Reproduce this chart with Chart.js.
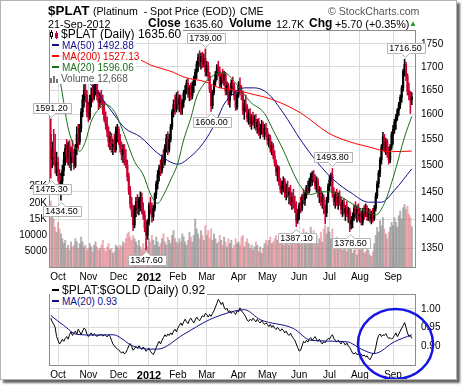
<!DOCTYPE html>
<html>
<head>
<meta charset="utf-8">
<script src="https://cdn.jsdelivr.net/npm/chart.js@4.4.1/dist/chart.umd.min.js"></script>
<style>
  body { margin: 0; width: 464px; height: 387px; overflow: hidden; position: relative; background: #fff;
         font-family: "Liberation Sans", Arial, sans-serif; }
  #frame { position: absolute; left: 0; top: 0; width: 455px; height: 378px; border: 1px solid #b4b4b4;
           box-shadow: 3px 3px 2px #666; background: #fff; }
  canvas { position: absolute; left: 0; }
  #main { top: 0; }
  #lower { top: 283px; }
  .t { position: absolute; white-space: nowrap; line-height: 1; }
  .leg { position: absolute; left: 50px; white-space: nowrap; line-height: 11px; height: 11px; background: #fff; padding-right: 2px; }
  .ln { display: inline-block; width: 7px; height: 2px; margin: 0 3px 0 2px; vertical-align: 3px; }
  .ic { display: inline-block; vertical-align: -1px; margin-right: 2px; }
</style>
</head>
<body>
<div id="frame"></div>
<canvas id="main" width="464" height="283"></canvas>
<canvas id="lower" width="464" height="96"></canvas>

<!-- 標題 -->
<div class="t" style="left:48px;top:3.7px;font-size:13.4px;font-weight:bold">$PLAT</div>
<div class="t" style="left:93px;top:6.1px;font-size:10.6px">(Platinum&nbsp; - Spot Price (EOD))</div>
<div class="t" style="left:240px;top:6.1px;font-size:10.6px">CME</div>
<div class="t" style="left:328px;top:6.1px;font-size:10.6px;color:#555">&copy; StockCharts.com</div>
<div class="t" style="left:48px;top:18.5px;font-size:10.8px">21-Sep-2012</div>
<div class="t" style="left:148px;top:17.3px;font-size:12px;font-weight:bold">Close</div>
<div class="t" style="left:184px;top:18.5px;font-size:10.8px">1635.60</div>
<div class="t" style="left:229px;top:17.3px;font-size:12px;font-weight:bold">Volume</div>
<div class="t" style="left:276px;top:18.5px;font-size:10.8px">12.7K</div>
<div class="t" style="left:309px;top:17.3px;font-size:12px;font-weight:bold">Chg</div>
<div class="t" style="left:335px;top:18.5px;font-size:10.8px">+5.70 (+0.35%)</div>
<div class="t" style="left:409px;top:20px;font-size:8px;color:#229922">&#9650;</div>

<!-- 圖例 -->
<div class="leg" style="top:29px;font-size:12px"><span class="ic"><svg width="9" height="9"><line x1="1.5" y1="0" x2="1.5" y2="9" stroke="#000"/><rect x="0.5" y="2.5" width="2" height="4" fill="#fff" stroke="#000"/><line x1="6.5" y1="1" x2="6.5" y2="9" stroke="#cc0033"/><rect x="5.5" y="3.5" width="2" height="4" fill="#cc0033" stroke="#cc0033"/></svg></span>$PLAT (Daily) 1635.60</div>
<div class="leg" style="top:40px;font-size:10px;color:#10108a"><i class="ln" style="background:#10108a"></i>MA(50) 1492.88</div>
<div class="leg" style="top:51px;font-size:10px;color:#e00000"><i class="ln" style="background:#ff0000"></i>MA(200) 1527.13</div>
<div class="leg" style="top:62px;font-size:10px;color:#1a6e1a"><i class="ln" style="background:#1a6e1a"></i>MA(20) 1596.06</div>
<div class="leg" style="top:73px;font-size:10px;color:#555"><span class="ic"><svg width="9" height="8"><rect x="0" y="3" width="2" height="5" fill="#777"/><rect x="3" y="1" width="2" height="7" fill="#777"/><rect x="6" y="4" width="2" height="4" fill="#777"/></svg></span>Volume 12,668</div>
<div class="leg" style="top:285px;font-size:12px"><i class="ln" style="background:#000"></i>$PLAT:$GOLD (Daily) 0.92</div>
<div class="leg" style="top:296px;font-size:10px;color:#10108a"><i class="ln" style="background:#10108a"></i>MA(20) 0.93</div>

<script>
// 座標軸刻度
const monthTicks = [5, 26, 47, 68, 88, 108, 130, 150, 172, 193, 214, 237];
const monthLabels = ["Oct", "Nov", "Dec", "2012", "Feb", "Mar", "Apr", "May", "Jun", "Jul", "Aug", "Sep"];
const priceTicks = [1350, 1400, 1450, 1500, 1550, 1600, 1650, 1700, 1750];
const volumeTicks = [5, 10, 15, 20, 25]; // 千
const ratioTicks = [0.90, 0.95, 1.00];

// 每日 K 線 (2011-09-26 ~ 2012-09-21)
const opens = [
  1560,1512,1530,1515,1498,1505,1480,1455,1470,1490,
  1510,1532,1515,1538,1505,1525,1515,1498,1535,1560,
  1545,1572,1605,1630,1650,1640,1605,1595,1630,1640,
  1635,1660,1665,1638,1625,1632,1628,1610,1590,1580,
  1565,1545,1555,1535,1540,1530,1565,1570,1550,1535,
  1520,1530,1510,1500,1478,1452,1428,1415,1390,1418,
  1432,1420,1435,1440,1418,1408,1385,1372,1395,1425,
  1418,1405,1420,1445,1465,1482,1495,1490,1512,1505,
  1535,1552,1530,1550,1575,1605,1620,1612,1635,1620,
  1632,1612,1625,1645,1650,1665,1642,1655,1638,1660,
  1672,1688,1705,1720,1710,1722,1705,1718,1690,1702,
  1680,1652,1618,1645,1668,1685,1698,1690,1662,1678,
  1672,1682,1648,1660,1628,1645,1665,1658,1638,1615,
  1640,1660,1650,1640,1608,1622,1615,1592,1602,1582,
  1595,1585,1590,1575,1585,1565,1572,1580,1562,1572,
  1565,1548,1552,1532,1538,1518,1505,1488,1495,1468,
  1455,1462,1470,1448,1458,1445,1450,1432,1440,1428,
  1420,1398,1410,1425,1420,1440,1435,1445,1458,1452,
  1470,1478,1482,1475,1462,1470,1448,1452,1432,1440,
  1418,1412,1435,1460,1472,1480,1448,1432,1445,1430,
  1440,1428,1418,1430,1412,1420,1410,1415,1392,1398,
  1405,1420,1410,1418,1405,1410,1395,1415,1410,1420,
  1405,1415,1400,1410,1402,1420,1442,1465,1485,1510,
  1535,1555,1530,1545,1522,1510,1535,1560,1570,1585,
  1595,1608,1620,1635,1655,1690,1705,1680,1648,1640,
  1630
];
const highs = [
  1591.2,1545,1570,1560,1525,1515,1492,1485,1500,1525,
  1540,1550,1545,1548,1535,1548,1530,1540,1575,1580,
  1580,1612,1640,1662,1668,1650,1625,1640,1655,1662,
  1670,1675,1672,1650,1645,1650,1640,1625,1605,1595,
  1575,1565,1562,1550,1560,1575,1580,1575,1560,1545,
  1540,1540,1530,1510,1485,1460,1440,1425,1425,1440,
  1445,1440,1450,1448,1430,1415,1398,1400,1430,1440,
  1430,1425,1448,1470,1490,1500,1510,1520,1530,1540,
  1560,1565,1560,1580,1610,1630,1640,1645,1648,1640,
  1640,1630,1650,1660,1672,1675,1660,1665,1668,1680,
  1695,1712,1728,1735,1730,1732,1728,1739,1712,1710,
  1688,1660,1650,1672,1690,1705,1712,1700,1685,1695,
  1690,1688,1668,1665,1650,1672,1678,1665,1648,1645,
  1668,1676,1660,1648,1630,1640,1620,1610,1612,1600,
  1605,1598,1600,1590,1592,1580,1588,1585,1580,1582,
  1572,1560,1558,1545,1542,1528,1510,1500,1498,1475,
  1470,1478,1475,1465,1470,1458,1462,1448,1455,1442,
  1432,1418,1430,1440,1445,1455,1450,1462,1470,1475,
  1485,1488,1490,1482,1478,1475,1460,1458,1448,1445,
  1425,1440,1465,1480,1485,1493.8,1458,1450,1455,1448,
  1452,1440,1435,1438,1425,1432,1422,1420,1405,1412,
  1425,1432,1425,1428,1420,1415,1420,1425,1428,1425,
  1420,1418,1415,1420,1425,1448,1470,1490,1515,1540,
  1564,1560,1552,1550,1535,1540,1565,1578,1590,1600,
  1612,1625,1640,1660,1695,1716.5,1710,1685,1665,1648,
  1645
];
const lows = [
  1475.3,1495,1500,1485,1480,1470,1445,1434.5,1460,1480,
  1500,1505,1500,1495,1490,1505,1492,1495,1520,1530,
  1540,1565,1595,1615,1625,1595,1585,1590,1615,1625,
  1630,1640,1630,1610,1615,1620,1600,1585,1570,1555,
  1535,1530,1525,1520,1525,1525,1545,1540,1525,1510,
  1505,1500,1495,1470,1445,1420,1405,1380,1385,1405,
  1410,1408,1415,1410,1400,1378,1347.6,1365,1390,1410,
  1395,1398,1415,1438,1455,1470,1480,1485,1495,1500,
  1525,1520,1525,1545,1570,1595,1600,1605,1610,1605,
  1600,1600,1615,1630,1642,1635,1628,1630,1632,1645,
  1660,1675,1690,1700,1695,1698,1700,1680,1680,1670,
  1645,1606,1612,1640,1660,1672,1680,1655,1655,1665,
  1660,1640,1640,1620,1615,1640,1650,1630,1608,1610,
  1635,1645,1630,1600,1590,1605,1585,1580,1575,1570,
  1578,1572,1568,1562,1558,1552,1560,1555,1550,1555,
  1540,1535,1525,1520,1512,1498,1480,1470,1462,1448,
  1445,1450,1440,1435,1440,1428,1425,1418,1420,1412,
  1387.1,1393,1400,1412,1415,1428,1425,1438,1445,1448,
  1460,1462,1468,1455,1450,1440,1430,1425,1420,1410,
  1392,1405,1430,1452,1462,1440,1425,1420,1425,1418,
  1425,1410,1405,1408,1398,1405,1395,1378.5,1383,1385,
  1398,1402,1395,1398,1395,1390,1390,1400,1405,1398,
  1398,1395,1392,1395,1398,1415,1438,1458,1478,1502,
  1528,1525,1520,1515,1502,1505,1530,1540,1562,1570,
  1588,1598,1612,1625,1648,1680,1670,1640,1630,1602,
  1620
];
const closes = [
  1510,1530,1515,1498,1505,1480,1455,1470,1490,1510,
  1532,1515,1538,1505,1525,1515,1498,1535,1560,1545,
  1572,1605,1630,1650,1640,1605,1595,1630,1640,1635,
  1660,1665,1638,1625,1632,1628,1610,1590,1580,1565,
  1545,1555,1535,1540,1530,1565,1570,1550,1535,1520,
  1530,1510,1500,1478,1452,1428,1415,1390,1418,1432,
  1420,1435,1440,1418,1408,1385,1372,1395,1425,1418,
  1405,1420,1445,1465,1482,1495,1490,1512,1505,1535,
  1552,1530,1550,1575,1605,1620,1612,1635,1620,1632,
  1612,1625,1645,1650,1665,1642,1655,1638,1660,1672,
  1688,1705,1720,1710,1722,1705,1718,1690,1702,1680,
  1652,1618,1645,1668,1685,1698,1690,1662,1678,1672,
  1682,1648,1660,1628,1645,1665,1658,1638,1615,1640,
  1660,1650,1640,1608,1622,1615,1592,1602,1582,1595,
  1585,1590,1575,1585,1565,1572,1580,1562,1572,1565,
  1548,1552,1532,1538,1518,1505,1488,1495,1468,1455,
  1462,1470,1448,1458,1445,1450,1432,1440,1428,1420,
  1398,1410,1425,1420,1440,1435,1445,1458,1452,1470,
  1478,1482,1475,1462,1470,1448,1452,1432,1440,1418,
  1412,1435,1460,1472,1480,1448,1432,1445,1430,1440,
  1428,1418,1430,1412,1420,1410,1415,1392,1398,1405,
  1420,1410,1418,1405,1410,1395,1415,1410,1420,1405,
  1415,1400,1410,1402,1420,1442,1465,1485,1510,1535,
  1555,1530,1545,1522,1510,1535,1560,1570,1585,1595,
  1608,1620,1635,1655,1690,1705,1680,1648,1640,1629.9,
  1635.6
];
// 成交量（千）
const volumes = [
  20.5,17.5,15.0,12.5,11.0,14.0,12.0,10.5,9.0,7.5,
  8.5,6.0,7.0,5.5,8.0,6.5,7.0,9.0,8.0,6.0,
  7.5,9.5,8.0,6.5,7.0,5.5,6.0,7.5,6.5,5.0,
  7.0,8.0,6.5,5.5,6.0,7.0,8.5,6.0,5.0,6.5,
  7.5,5.5,6.0,4.5,5.0,7.0,6.5,6.0,7.0,6.5,
  8.0,7.5,9.0,10.5,11.0,9.5,8.5,10.0,9.0,8.0,
  7.0,8.5,6.5,5.5,7.5,6.0,8.0,6.5,9.0,8.0,
  10.0,8.5,7.0,9.5,8.0,6.5,7.5,9.0,10.5,8.0,
  7.0,9.5,8.5,7.5,10.0,11.5,9.0,8.0,7.5,9.0,
  8.0,10.5,9.5,8.0,7.0,8.5,11.0,9.5,8.0,10.0,
  15.0,12.0,10.5,9.0,11.5,10.0,8.5,13.0,10.0,11.5,
  9.0,12.0,8.5,10.5,9.0,7.5,8.0,10.0,8.5,7.0,
  9.5,8.0,6.5,9.0,7.5,8.5,6.0,7.0,9.0,7.5,
  8.0,7.0,9.5,10.0,6.5,8.0,9.0,7.5,6.0,7.0,
  5.5,6.5,8.0,7.0,5.0,6.5,4.5,6.0,7.5,8.5,
  7.0,8.5,9.5,7.5,8.0,9.0,10.0,8.5,7.5,9.5,
  8.0,7.0,10.5,9.0,8.5,7.0,9.5,8.0,11.0,9.0,
  10.0,8.0,9.0,10.5,8.5,12.0,9.5,11.0,8.0,10.0,
  12.5,9.0,11.5,8.5,10.0,7.5,9.0,11.0,8.0,12.0,
  13.0,10.5,12.5,11.0,9.0,12.0,8.5,7.0,9.5,6.5,
  8.0,7.5,5.5,6.5,8.0,5.0,7.0,9.5,6.0,4.5,
  5.5,7.0,4.0,6.0,5.5,7.0,6.0,4.5,5.0,6.5,
  5.5,4.0,3.5,5.0,7.5,10.0,12.5,11.0,14.5,13.0,
  15.5,12.0,10.5,9.0,11.0,12.5,14.0,13.0,15.5,14.0,
  12.5,16.0,17.5,15.0,18.5,19.5,18.0,19.0,16.5,15.5,
  12.668
];
// $PLAT:$GOLD 比值
const ratio = [
  0.975,0.965,0.958,0.950,0.925,0.915,0.905,0.910,0.918,0.912,
  0.920,0.925,0.918,0.930,0.938,0.928,0.935,0.940,0.932,0.945,
  0.938,0.930,0.940,0.948,0.945,0.932,0.925,0.930,0.935,0.928,
  0.933,0.930,0.925,0.930,0.928,0.932,0.926,0.930,0.928,0.924,
  0.930,0.926,0.915,0.905,0.900,0.895,0.892,0.888,0.885,0.880,
  0.884,0.878,0.882,0.890,0.900,0.906,0.898,0.888,0.892,0.898,
  0.893,0.900,0.895,0.890,0.897,0.892,0.885,0.890,0.893,0.885,
  0.880,0.876,0.885,0.895,0.905,0.912,0.905,0.915,0.922,0.930,
  0.925,0.932,0.928,0.935,0.930,0.940,0.945,0.938,0.948,0.955,
  0.962,0.955,0.965,0.972,0.965,0.960,0.970,0.975,0.968,0.962,
  0.970,0.978,0.972,0.968,0.975,0.982,0.978,0.988,0.985,0.978,
  0.985,0.980,0.988,0.995,1.005,1.015,1.026,1.020,1.012,1.018,
  1.005,0.998,1.002,0.992,0.995,0.988,0.994,0.990,0.985,0.995,
  0.992,1.003,0.995,0.990,0.985,0.978,0.970,0.966,0.972,0.968,
  0.975,0.970,0.965,0.972,0.966,0.962,0.968,0.963,0.958,0.962,
  0.958,0.952,0.958,0.950,0.955,0.948,0.944,0.950,0.945,0.940,
  0.946,0.942,0.935,0.940,0.932,0.928,0.934,0.926,0.920,0.915,
  0.905,0.895,0.886,0.888,0.900,0.912,0.908,0.915,0.910,0.918,
  0.922,0.915,0.920,0.925,0.918,0.912,0.918,0.910,0.905,0.912,
  0.908,0.915,0.920,0.918,0.925,0.930,0.920,0.915,0.910,0.915,
  0.910,0.905,0.912,0.908,0.902,0.908,0.900,0.895,0.888,0.880,
  0.878,0.882,0.876,0.878,0.874,0.878,0.872,0.875,0.870,0.873,
  0.866,0.862,0.870,0.878,0.880,0.895,0.915,0.928,0.932,0.925,
  0.930,0.928,0.933,0.925,0.920,0.922,0.918,0.922,0.928,0.935,
  0.925,0.932,0.940,0.948,0.955,0.963,0.950,0.935,0.925,0.928,
  0.920
];

// 移動平均線
const ma20Days = [0,4,7,12,17,20,24,28,34,38,44,51,58,64,69,74,78,83,88,92,97,101,106,111,117,121,128,138,148,154,161,168,173,180,187,194,201,210,219,225,231,238,245,250];
const ma20 = [1765,1712,1661,1573,1533,1527,1546,1586,1613,1620,1606,1559,1507,1482,1446,1429,1444,1472,1504,1549,1593,1636,1663,1678,1687,1686,1665,1626,1602,1568,1529,1485,1460,1445,1450,1450,1441,1426,1414,1408,1429,1485,1555,1596.06];
const ma50Days = [0,10,20,28,33,44,51,62,74,88,97,104,110,115,120,127,134,141,150,161,173,185,196,208,220,229,238,250];
const ma50 = [1790,1740,1695,1661,1643,1599,1573,1555,1523,1502,1517,1537,1562,1589,1621,1644,1655,1655,1644,1603,1549,1504,1472,1448,1431,1431,1453,1492.88];
const ma200Days = [0,30,62,69,85,92,108,115,128,138,154,173,192,203,219,236,250];
const ma200 = [1770,1740,1715,1704,1688,1678,1667,1657,1650,1643,1630,1603,1563,1549,1536,1526,1527.13];
const ratioMaDays = [0,9,18,30,43,57,69,74,92,110,127,134,145,168,180,205,215,224,238,250];
const ratioMa = [0.982,0.955,0.931,0.929,0.930,0.899,0.891,0.891,0.931,0.971,0.994,0.998,0.971,0.947,0.915,0.911,0.891,0.879,0.911,0.930];

// 高低點標註
const noteDays = [0, 0, 7, 66, 107, 111, 170, 195, 207, 245];
const noteValues = [1591.2, 1475.3, 1434.5, 1347.6, 1739.0, 1606.0, 1387.1, 1493.8, 1378.5, 1716.5];
const noteAbove = [true, false, false, false, true, false, false, true, false, true];

// 手繪圈
const circleDay = 238.7;
const circleValue = 0.905;

const FONT = '"Liberation Sans", Arial, sans-serif';
const RED = "#cc0033";
const down = closes.map((c, i) => c < (i ? closes[i - 1] : opens[0]));
const barColors = down.map((d) => (d ? RED : "#000"));
const volColors = down.map((d) => (d ? "rgba(222,110,122,0.55)" : "rgba(125,125,125,0.6)"));

const pts = (days, vals) => days.map((d, i) => ({ x: d, y: vals[i] }));

const xAxis = (h) => ({
  type: "linear",
  min: -1.25,
  max: 252.9,
  offset: false,
  afterBuildTicks: (s) => { s.ticks = monthTicks.map((v) => ({ value: v })); },
  afterFit: (s) => { s.height = h; },
  grid: { color: "#dadada", drawTicks: false, offset: false },
  border: { display: false },
  ticks: {
    autoSkip: false, maxRotation: 0, padding: 3, color: "#000",
    font: (c) => {
      const y = c.tick && c.tick.value === 68;
      return { family: FONT, size: y ? 11 : 10, weight: y ? "bold" : "normal" };
    },
    callback: (v) => monthLabels[monthTicks.indexOf(v)],
  },
});

// 外框
const panelBorder = {
  id: "panelBorder",
  afterDraw(chart) {
    const { ctx, chartArea: a } = chart;
    ctx.save();
    ctx.strokeStyle = "#8c8c8c";
    ctx.lineWidth = 1;
    ctx.strokeRect(Math.round(a.left) + 0.5, Math.round(a.top) + 0.5, Math.round(a.right - a.left) - 1, Math.round(a.bottom - a.top) - 1);
    ctx.restore();
  },
};

// 價格標註框
const notes = {
  id: "notes",
  afterDraw(chart) {
    const { ctx } = chart;
    const xs = chart.scales.x, ys = chart.scales.y;
    ctx.save();
    ctx.font = "9px " + FONT;
    ctx.textAlign = "center";
    ctx.textBaseline = "middle";
    noteDays.forEach((d, i) => {
      const txt = noteValues[i].toFixed(2);
      const px = Math.round(xs.getPixelForValue(d)) + 0.5;
      const py = ys.getPixelForValue(noteValues[i]);
      const w = Math.ceil(ctx.measureText(txt).width) + 5, h = 10;
      const l = Math.round(px - w / 2) + 0.5, r = l + w;
      const t = Math.round(noteAbove[i] ? py - 6 - h : py + 6) + 0.5, b = t + h;
      ctx.beginPath();
      if (noteAbove[i]) {
        ctx.moveTo(l, t); ctx.lineTo(r, t); ctx.lineTo(r, b); ctx.lineTo(px + 4, b);
        ctx.lineTo(px, b + 4); ctx.lineTo(px - 4, b); ctx.lineTo(l, b);
      } else {
        ctx.moveTo(l, t); ctx.lineTo(px - 4, t); ctx.lineTo(px, t - 4); ctx.lineTo(px + 4, t);
        ctx.lineTo(r, t); ctx.lineTo(r, b); ctx.lineTo(l, b);
      }
      ctx.closePath();
      ctx.fillStyle = "#fff";
      ctx.fill();
      ctx.strokeStyle = "#b4b4b4";
      ctx.stroke();
      ctx.fillStyle = "#000";
      ctx.fillText(txt, px, t + h / 2 + 0.5);
    });
    ctx.restore();
  },
};

// 藍色圈
const circle = {
  id: "circle",
  afterDraw(chart) {
    const { ctx } = chart;
    const cx = chart.scales.x.getPixelForValue(circleDay);
    const cy = chart.scales.y.getPixelForValue(circleValue);
    ctx.save();
    ctx.strokeStyle = "#1414e6";
    ctx.lineWidth = 2.5;
    ctx.beginPath();
    ctx.ellipse(cx, cy, 37.5, 35, 0, 0, Math.PI * 2);
    ctx.stroke();
    ctx.restore();
  },
};

const common = {
  responsive: false,
  animation: false,
  events: [],
  plugins: { legend: { display: false }, tooltip: { enabled: false } },
};

// 主圖：價格 + 成交量
new Chart(document.getElementById("main"), {
  type: "bar",
  data: {
    datasets: [
      { type: "line", data: pts(ma20Days, ma20), borderColor: "#1a6e1a", borderWidth: 1, pointRadius: 0, cubicInterpolationMode: "monotone", yAxisID: "y", order: 1 },
      { type: "line", data: pts(ma50Days, ma50), borderColor: "#10108a", borderWidth: 1, pointRadius: 0, cubicInterpolationMode: "monotone", yAxisID: "y", order: 1 },
      { type: "line", data: pts(ma200Days, ma200), borderColor: "#ff0000", borderWidth: 1, pointRadius: 0, cubicInterpolationMode: "monotone", yAxisID: "y", order: 1 },
      { data: opens.map((o, i) => ({ x: i, y: [Math.min(o, closes[i]), Math.max(o, closes[i])] })), backgroundColor: barColors, barThickness: 1.5, grouped: false, yAxisID: "y", order: 2 },
      { data: lows.map((lo, i) => ({ x: i, y: [lo, highs[i]] })), backgroundColor: barColors, barThickness: 0.9, grouped: false, yAxisID: "y", order: 3 },
      { data: volumes.map((v, i) => ({ x: i, y: v })), backgroundColor: volColors, barThickness: 1.3, grouped: false, yAxisID: "vol", order: 4 },
    ],
  },
  options: {
    ...common,
    layout: { padding: { top: 30, left: 0, right: 0, bottom: 0 } },
    scales: {
      x: xAxis(15),
      y: {
        type: "logarithmic",
        position: "right",
        min: 1316.1,
        max: 1781.4,
        afterBuildTicks: (s) => { s.ticks = priceTicks.map((v) => ({ value: v })); },
        afterFit: (s) => { s.width = 48; },
        grid: { color: "#dadada", drawTicks: false },
        border: { display: false },
        ticks: { padding: 5, color: "#000", font: { family: FONT, size: 10 }, callback: (v) => String(v) },
      },
      vol: {
        type: "linear",
        position: "left",
        min: 0,
        max: 73,
        afterBuildTicks: (s) => { s.ticks = volumeTicks.map((v) => ({ value: v })); },
        afterFit: (s) => { s.width = 49; },
        grid: { drawOnChartArea: false, drawTicks: false },
        border: { display: false },
        ticks: { padding: 2, color: "#000", font: { family: FONT, size: 10 }, callback: (v) => (v < 15 ? String(v * 1000) : v + "K") },
      },
    },
  },
  plugins: [panelBorder, notes],
});

// 下圖：$PLAT:$GOLD
new Chart(document.getElementById("lower"), {
  type: "line",
  data: {
    datasets: [
      { data: pts(ratioMaDays, ratioMa), borderColor: "#10108a", borderWidth: 1, pointRadius: 0, cubicInterpolationMode: "monotone" },
      { data: ratio.map((v, i) => ({ x: i, y: v })), borderColor: "#000", borderWidth: 1, pointRadius: 0, tension: 0 },
    ],
  },
  options: {
    ...common,
    layout: { padding: { top: 1, left: 49, right: 0, bottom: 0 } },
    scales: {
      x: xAxis(13),
      y: {
        type: "linear",
        position: "right",
        min: 0.8452,
        max: 1.0405,
        afterBuildTicks: (s) => { s.ticks = ratioTicks.map((v) => ({ value: v })); },
        afterFit: (s) => { s.width = 48; },
        grid: { color: "#dadada", drawTicks: false },
        border: { display: false },
        ticks: { padding: 5, color: "#000", font: { family: FONT, size: 10 }, callback: (v) => v.toFixed(2) },
      },
    },
  },
  plugins: [panelBorder, circle],
});
</script>
</body>
</html>
